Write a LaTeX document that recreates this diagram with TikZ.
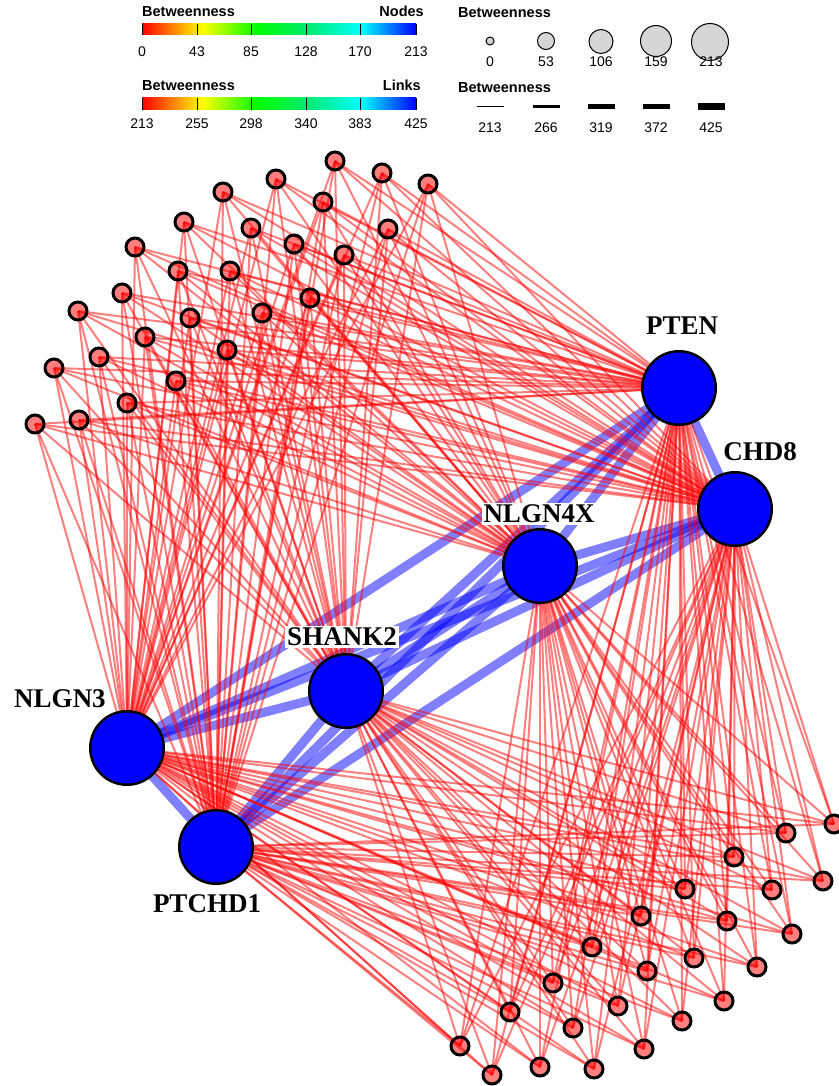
\documentclass[tikz,border=0pt]{standalone}
\usepackage{fontspec}
\setmainfont{Liberation Serif}
\setsansfont{Liberation Sans}
\pgfdeclarelayer{edges}
\pgfsetlayers{edges,main}
\definecolor{gcyan}{RGB}{0,235,110}
\definecolor{legfill}{RGB}{214,214,214}
\pgfdeclarehorizontalshading{rainbowbar}{100bp}{color(0bp)=(red); color(25bp)=(red); color(36bp)=(yellow); color(46bp)=(green); color(55bp)=(gcyan); color(65bp)=(cyan); color(75bp)=(blue); color(100bp)=(blue)}
\tikzset{
  hub/.style={circle, fill=blue, draw=black, line width=2.5pt, minimum size=73.5pt, inner sep=0pt},
  leaf/.style={circle, fill=red, fill opacity=0.5, draw=black, draw opacity=1, line width=3pt, minimum size=18pt, inner sep=0pt},
  hublabel/.style={fill=white, inner sep=2pt, font=\fontsize{27}{27}\selectfont\bfseries},
  rededge/.style={draw=red, draw opacity=0.5, line width=2pt},
  blueedge/.style={draw=blue, draw opacity=0.5, line width=9pt},
  legb/.style={inner sep=0pt, font=\sffamily\bfseries\fontsize{14.5}{15}\selectfont},
  legn/.style={inner sep=0pt, font=\sffamily\fontsize{14}{15}\selectfont},
  legcirc/.style={circle, fill=legfill, draw=black, line width=1pt, inner sep=0pt},
  tickline/.style={draw=black, line width=1pt}
}
\begin{document}
\begin{tikzpicture}[x=1pt,y=-1pt]
\useasboundingbox (0,0) rectangle (838,1086);

% ---------------- legend: colour bars ----------------
\node[legb, anchor=base west] (lbn) at (142,17) {Betweenness};
\node[legb, anchor=base east] (lnodes) at (424,17) {Nodes};
\shade[shading=rainbowbar] (142,24) rectangle (416,35);
\foreach \x/\t [count=\i] in {142/0,197/43,251/85,306/128,360/170,416/213}{
  \draw[tickline] (\x,24) -- (\x,35);
  \node[legn] (nt\i) at (\x,52) {\t};
}
\node[legb, anchor=base west] (lbl) at (142,91) {Betweenness};
\node[legb, anchor=base east] (llinks) at (421,91) {Links};
\shade[shading=rainbowbar] (142,98) rectangle (416,110);
\foreach \x/\t [count=\i] in {142/213,197/255,251/298,306/340,360/383,416/425}{
  \draw[tickline] (\x,98) -- (\x,110);
  \node[legn] (lt\i) at (\x,124) {\t};
}

% ---------------- legend: sizes ----------------
\node[legb, anchor=base west] (lbs) at (458,18) {Betweenness};
\foreach \x/\r/\yy [count=\i] in {490/4.5/41,546/9/41,601/12.5/41.5,656/16/41,710/19/42}{
  \node[legcirc, minimum size=2*\r pt-1pt] (sc\i) at (\x,\yy) {};
}
\foreach \x/\t [count=\i] in {490/0,546/53,601/106,656/159,711/213}{
  \node[legn] (st\i) at (\x,62) {\t};
}
\node[legb, anchor=base west] (lbw) at (458,93) {Betweenness};
\foreach \x/\w/\t [count=\i] in {490/1/213,546/2.7/266,601/4.3/319,656/5.3/372,711/7.7/425}{
  \coordinate (wa\i) at (\x-13.5,106.5);
  \coordinate (wb\i) at (\x+13.5,106.5);
  \draw[line width=\w pt] (wa\i) -- (wb\i);
  \node[legn] (wt\i) at (\x,127.5) {\t};
}

% ---------------- hubs ----------------
\node[hub] (pten) at (679,388) {};
\node[hub] (chd)  at (735,509) {};
\node[hub] (nl4)  at (540,566) {};
\node[hub] (sh2)  at (346,691) {};
\node[hub] (nl3)  at (127,748) {};
\node[hub] (ptc)  at (216,847) {};

% ---------------- leaves ----------------
\foreach \p [count=\i] in {(335,161),(382,173),(428,184),(276,179),(323,202),(223,192),(388,229),(184,222),(251,228),(294,244),(344,255),(135,247),(178,271),(230,271),(310,298),(122,293),(78,311),(190,318),(262,313),(145,337),(227,350),(99,357),(54,368),(176,381),(127,403),(79,420),(35,424)}{
  \node[leaf] (u\i) at \p {};
}
\foreach \p [count=\i] in {(834,824),(786,833),(734,857),(823,881),(685,889),(772,890),(641,916),(727,921),(792,934),(592,947),(694,958),(647,971),(757,967),(553,983),(724,1001),(618,1006),(510,1012),(682,1021),(573,1028),(460,1046),(644,1049),(540,1067),(594,1069),(492,1075)}{
  \node[leaf] (l\i) at \p {};
}

% ---------------- labels ----------------
\node[hublabel] (tpten) at (682,326) {PTEN};
\node[hublabel] (tchd)  at (760,452) {CHD8};
\node[hublabel] (tnl4)  at (539,514) {NLGN4X};
\node[hublabel] (tsh2)  at (342,637) {SHANK2};
\node[hublabel] (tnl3)  at (60,699) {NLGN3};
\node[hublabel] (tptc)  at (207,904) {PTCHD1};

% ---------------- edges ----------------
\begin{pgfonlayer}{edges}
\foreach \a/\b in {pten/chd,pten/nl4,pten/sh2,pten/nl3,pten/ptc,chd/nl4,chd/sh2,chd/nl3,chd/ptc,nl4/sh2,nl4/nl3,nl4/ptc,sh2/nl3,sh2/ptc,nl3/ptc}{
  \draw[blueedge] (\a.center) -- (\b.center);
}
\foreach \h in {pten,chd,nl4,sh2,nl3,ptc}{
  \foreach \i in {1,...,27}{\draw[rededge] (u\i.center) -- (\h.center);}
  \foreach \i in {1,...,24}{\draw[rededge] (l\i.center) -- (\h.center);}
}
\end{pgfonlayer}
\end{tikzpicture}
\end{document}
